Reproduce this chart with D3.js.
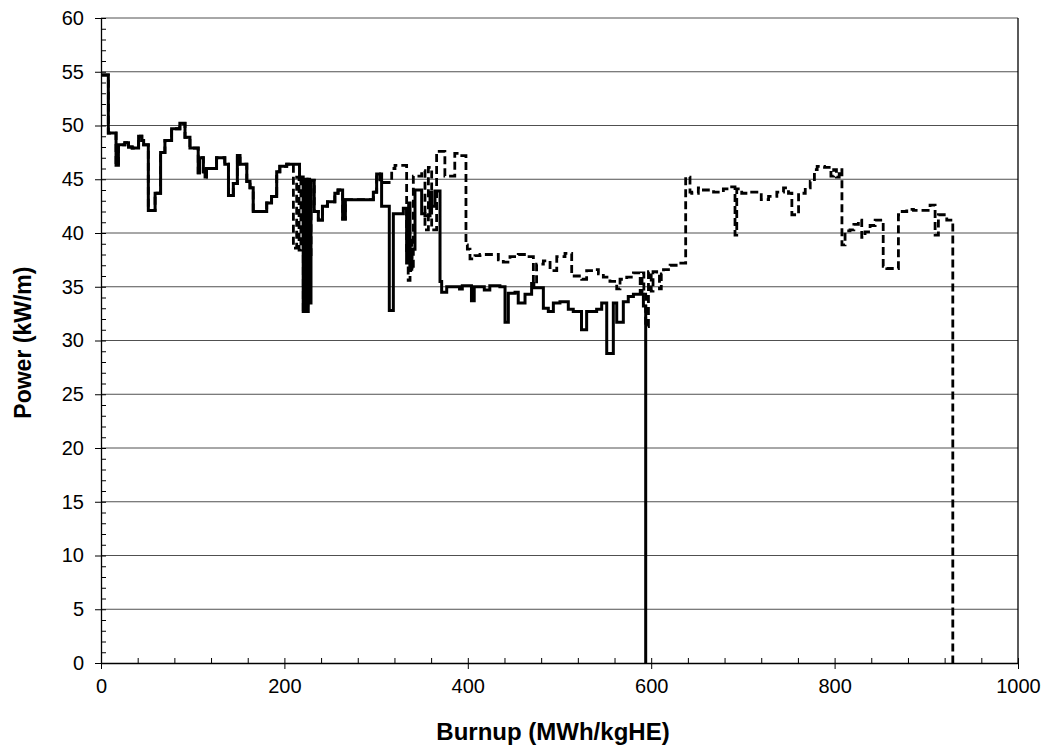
<!DOCTYPE html>
<html>
<head>
<meta charset="utf-8">
<script src="https://cdn.jsdelivr.net/npm/d3@7"></script>
<style>
    body { margin: 0; background: #fff; }
    svg { font-family: Arial, "Liberation Sans", sans-serif; }
</style>
</head>
<body>
<div id="chart"></div>
<script>
// step data, [burnup (MWh/kgHE), power (kW/m)], value holds until next burnup
var commonSteps = [
    [0, 54.7], [8, 49.3], [16.4, 46.3], [19, 48.2], [26, 48.4], [30, 48.0], [34, 47.9],
    [41, 49.0], [44.5, 48.6], [46.5, 48.2], [51.6, 42.1], [59, 43.7], [65, 47.5],
    [69.7, 48.6], [77, 49.7], [86, 50.2], [91.6, 48.9], [97, 47.9], [106, 45.6],
    [107.5, 47.0], [111.6, 45.7], [113.5, 45.2], [115, 46.0], [126, 47.0], [135, 46.4],
    [139, 43.5], [144.3, 44.6], [148.7, 47.2], [151.6, 46.4], [159, 44.8], [162.5, 44.2],
    [166, 42.0], [180.7, 42.8], [186, 43.4], [191.6, 45.7], [195, 46.2], [202.5, 46.4]
];

var solidTail = [
    [208, 46.4], [216.5, 45.2], [220.5, 32.7], [222.5, 45.0], [224, 32.7], [226, 45.0],
    [227.5, 33.5], [229, 44.9], [232.5, 42.0], [237, 41.2], [241.5, 42.5], [247, 42.9],
    [255, 43.7], [258.5, 44.0], [263.5, 41.3], [266.5, 43.1], [297, 43.8], [300.6, 45.5],
    [306, 42.5], [314.4, 32.8], [318.8, 41.8], [329.7, 42.3], [333.3, 37.2], [335.5, 42.8],
    [337, 36.8], [339, 38.5], [342.4, 44.0], [349.7, 41.8], [353.3, 41.6], [358.8, 43.8],
    [360.6, 42.5], [364.2, 43.9], [369.7, 35.5], [371.5, 34.5], [377, 35.0], [391, 34.8],
    [394, 35.1], [404, 33.7], [407, 35.0], [418, 34.7], [424, 35.1], [435, 35.0],
    [440.6, 31.7], [444.2, 34.4], [451.5, 34.5], [455, 33.5], [462.4, 34.3], [469.6, 35.3],
    [472, 34.9], [482.4, 33.0], [487.8, 32.7], [493.3, 33.5], [500.5, 33.6], [509.6, 32.9],
    [515, 32.7], [524, 31.0], [529.6, 32.7], [540.5, 32.9], [546, 33.5], [551.5, 28.8],
    [558.7, 33.5], [562.4, 31.7], [569.6, 33.6], [575, 34.1], [580.6, 34.3], [591.5, 33.2],
    [594, 0]
];

var dashedTail = [
    [208, 46.4], [209.8, 38.6], [213.4, 45.2], [216, 38.4], [218, 45.0], [220.6, 32.7],
    [222, 45.0], [223.5, 33.0], [225.5, 45.0], [227, 38.0], [229, 44.9], [232.5, 42.0],
    [237, 41.2], [241.5, 42.5], [247, 42.9], [255, 43.7], [258.5, 44.0], [263.5, 41.3],
    [266.5, 43.1], [297, 43.8], [300.6, 45.5], [304, 44.7], [317, 46.0], [320.6, 46.3],
    [333.3, 38.0], [335, 35.6], [337, 39.5], [339, 36.5], [340.6, 45.3], [349.7, 45.8],
    [353.3, 40.3], [357, 46.1], [360.6, 40.3], [366, 47.6], [375, 45.3], [385.8, 47.4],
    [391.6, 47.2], [398, 38.9], [399.5, 38.5], [402.4, 37.6], [407.8, 37.9], [413.3, 38.0],
    [433.3, 37.5], [438.7, 37.3], [446, 37.8], [455, 38.0], [464, 37.8], [471.5, 35.3],
    [475, 37.1], [482.4, 37.4], [489.7, 36.5], [497, 37.8], [506, 38.1], [513.3, 36.0],
    [524.2, 35.7], [529.6, 36.5], [536.9, 36.6], [542.4, 36.2], [547.8, 35.9], [555, 35.5],
    [562.4, 34.8], [566, 35.7], [573.3, 35.9], [580.6, 36.3], [588, 34.5], [590, 36.3],
    [592, 34.6], [594, 31.3], [597, 36.4], [600, 34.6], [602, 36.4], [606, 36.2],
    [609, 34.8], [611, 36.2], [613.4, 36.6], [620.6, 37.0], [629.6, 37.2], [637.6, 45.2],
    [642.3, 43.8], [644.2, 43.7], [651.4, 44.2], [656.9, 44.0], [668, 43.8], [678.7, 44.1],
    [686, 44.3], [691.4, 39.8], [693.3, 44.1], [698.7, 43.7], [706, 43.8], [720, 43.1],
    [728, 43.4], [737, 43.8], [744.3, 44.2], [749.7, 43.7], [753.4, 41.7], [760.7, 43.7],
    [768, 44.2], [773.4, 44.8], [778, 45.9], [781, 46.2], [789, 46.1], [796, 45.3],
    [799, 45.9], [802, 45.2], [805, 45.9], [808, 38.9], [811.4, 40.2], [816.8, 40.3],
    [821, 40.8], [825.9, 41.2], [829.6, 39.6], [833.2, 40.1], [838.7, 40.7], [844.2, 41.2],
    [853, 36.9], [856.9, 36.7], [869.6, 41.7], [871.4, 42.0], [878.7, 42.2], [886, 42.1],
    [904.1, 42.6], [909.6, 39.8], [913.2, 41.7], [922.3, 41.2], [928.9, 0]
];

var xMajorTicks = [0, 200, 400, 600, 800, 1000];
var yMajorTicks = [0, 5, 10, 15, 20, 25, 30, 35, 40, 45, 50, 55, 60];
var xTitle = "Burnup (MWh/kgHE)";
var yTitle = "Power (kW/m)";

var pwidth = 1049, pheight = 748;
var margin = {top: 18, right: 31, bottom: 85, left: 101};
var width = pwidth - margin.left - margin.right;
var height = pheight - margin.top - margin.bottom;

var svgContainer = d3.select("#chart").append("svg")
    .attr("width", pwidth)
    .attr("height", pheight);
var svg = svgContainer.append("g")
    .attr("transform", "translate(" + margin.left + "," + margin.top + ")");

var x = d3.scaleLinear().domain([0, 1000]).range([0, width]);
var y = d3.scaleLinear().domain([0, 60]).range([height, 0]);

//horizontal grid
svg.append("g")
    .selectAll("line")
    .data(yMajorTicks.filter(d => d > 0))
    .enter().append("line")
    .attr("x1", 0)
    .attr("x2", width)
    .attr("y1", d => y(d))
    .attr("y2", d => y(d))
    .attr("stroke", "#505050")
    .attr("stroke-width", 1);

//right frame line
svg.append("line")
    .attr("x1", width).attr("x2", width)
    .attr("y1", 0).attr("y2", height)
    .attr("stroke", "black")
    .attr("stroke-width", 1.3);

//minor ticks point inside the plot
var xMinor = d3.range(0, 1001, 40);
var yMinor = d3.range(0, 61, 1);
svg.append("g")
    .attr("transform", "translate(0," + height + ")")
    .call(d3.axisTop(x).tickValues(xMinor).tickSize(5).tickFormat(""))
    .call(g => g.select(".domain").remove());
svg.append("g")
    .call(d3.axisRight(y).tickValues(yMinor).tickSize(5).tickFormat(""))
    .call(g => g.select(".domain").remove());

var xAxis = svg.append("g")
    .attr("transform", "translate(0," + height + ")")
    .call(d3.axisBottom(x).tickValues(xMajorTicks).tickFormat(d3.format("d"))
        .tickSize(6).tickSizeOuter(0).tickPadding(10));
var yAxis = svg.append("g")
    .call(d3.axisLeft(y).tickValues(yMajorTicks).tickFormat(d3.format("d"))
        .tickSize(6).tickSizeOuter(0).tickPadding(10));

[xAxis, yAxis].forEach(function (a) {
    a.selectAll("text")
        .attr("font-size", 20)
        .attr("font-family", "Arial, 'Liberation Sans', sans-serif")
        .attr("fill", "black");
    a.select(".domain").attr("stroke-width", 1.3);
});
yAxis.selectAll("text").attr("dx", "-1");

//axis titles
svgContainer.append("text")
    .attr("x", 553)
    .attr("y", 740)
    .attr("font-size", 24)
    .attr("font-weight", "bold")
    .style("text-anchor", "middle")
    .text(xTitle);
svgContainer.append("text")
    .attr("transform", "translate(31," + (margin.top + y(29.8)) + ") rotate(-90)")
    .attr("font-size", 23)
    .attr("font-weight", "bold")
    .style("text-anchor", "middle")
    .text(yTitle);

//power histories
var lineGen = d3.line()
    .curve(d3.curveStepAfter)
    .x(d => x(d[0]))
    .y(d => y(d[1]));

svg.append("path")
    .attr("d", lineGen(commonSteps.concat(solidTail)))
    .attr("fill", "none")
    .attr("stroke", "black")
    .attr("stroke-width", 3);

svg.append("path")
    .attr("d", lineGen(commonSteps.concat(dashedTail)))
    .attr("fill", "none")
    .attr("stroke", "black")
    .attr("stroke-width", 2.8)
    .attr("stroke-dasharray", "8,4");
</script>
</body>
</html>
